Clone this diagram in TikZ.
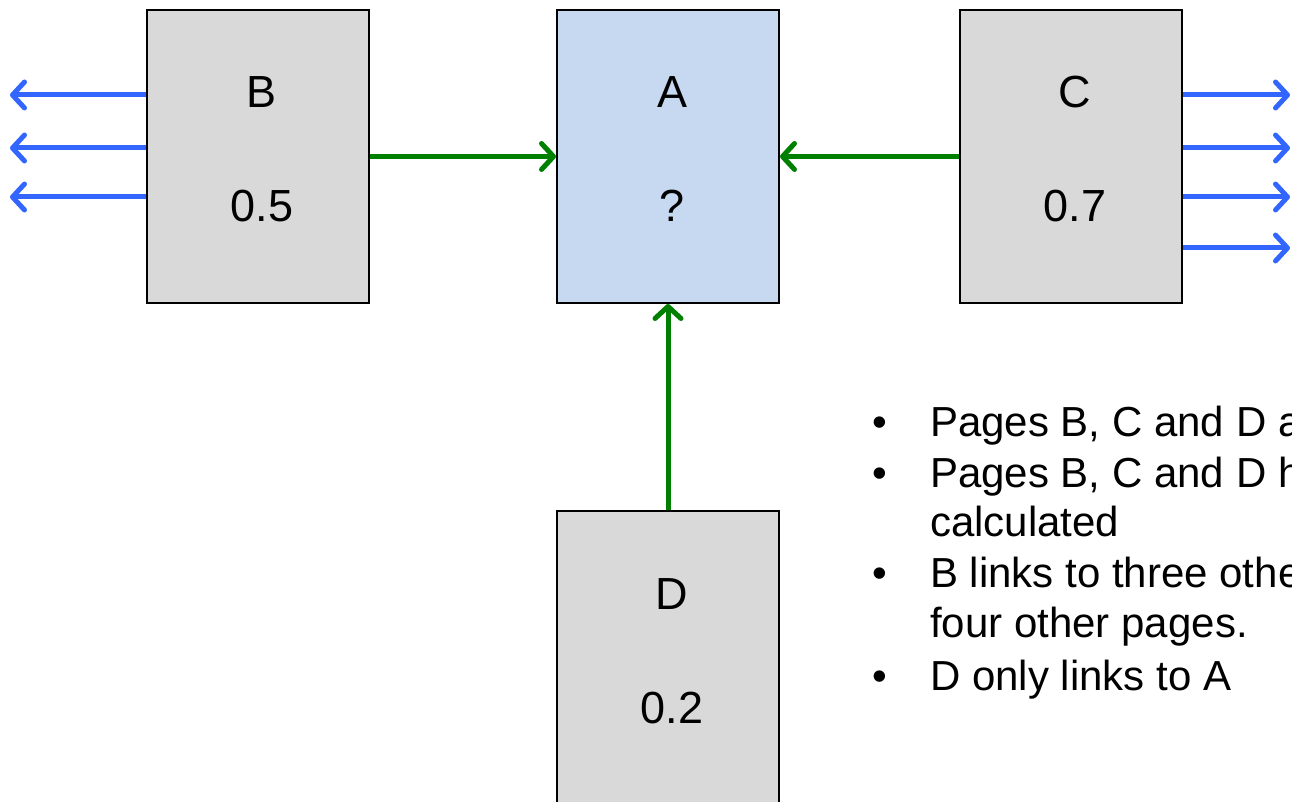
\documentclass[tikz,border=0pt]{standalone}
\usepackage{fontspec}
\setmainfont{Liberation Sans}
\usetikzlibrary{arrows.meta,calc}
\definecolor{linkblue}{HTML}{3366FF}
\definecolor{linkgreen}{HTML}{008000}
\definecolor{pagegray}{HTML}{D9D9D9}
\definecolor{pageblue}{HTML}{C6D9F1}
\begin{document}
\begin{tikzpicture}[x=1pt,y=-1pt,
  page/.style={draw=black, line width=2pt, fill=pagegray, minimum width=222pt, minimum height=293pt, inner sep=0pt, anchor=north west},
  lbl/.style={font=\fontsize{45}{54}\selectfont, anchor=base, inner sep=0pt},
  txt/.style={font=\fontsize{42}{50}\selectfont, anchor=base west, inner sep=0pt},
  tipstyle/.style={-{Straight Barb[length=12pt,width=26pt,line width=5pt 0,round]}},
  outlink/.style={draw=linkblue, line width=5pt, tipstyle},
  inlink/.style={draw=linkgreen, line width=5pt, tipstyle},
]
\useasboundingbox (0,0) rectangle (1292,802);
\clip (0,0) rectangle (1292,802);
\fill[white] (0,0) rectangle (1292,802);

% pages
\node[page] (b) at (146,9) {};
\node[page, fill=pageblue] (a) at (556,9) {};
\node[page] (c) at (959,9) {};
\node[page] (d) at (556,510) {};

% labels
\node[lbl] (bname) at ($(b.north)+(4,99)$) {B};
\node[lbl] (bval)  at ($(b.north)+(4,213)$) {0.5};
\node[lbl] (aname) at ($(a.north)+(4,99)$) {A};
\node[lbl] (aval)  at ($(a.north)+(4,213)$) {?};
\node[lbl] (cname) at ($(c.north)+(4,99)$) {C};
\node[lbl] (cval)  at ($(c.north)+(4,213)$) {0.7};
\node[lbl] (dname) at ($(d.north)+(4,99)$) {D};
\node[lbl] (dval)  at ($(d.north)+(4,213)$) {0.2};

% outgoing links of B
\coordinate (bl1) at (10,95);
\coordinate (bl2) at (10,148);
\coordinate (bl3) at (10,197);
\draw[outlink] (b.west |- bl1) -- (bl1);
\draw[outlink] (b.west |- bl2) -- (bl2);
\draw[outlink] (b.west |- bl3) -- (bl3);

% outgoing links of C
\coordinate (cl1) at (1290,95);
\coordinate (cl2) at (1290,148);
\coordinate (cl3) at (1290,197);
\coordinate (cl4) at (1290,248);
\draw[outlink] (c.east |- cl1) -- (cl1);
\draw[outlink] (c.east |- cl2) -- (cl2);
\draw[outlink] (c.east |- cl3) -- (cl3);
\draw[outlink] (c.east |- cl4) -- (cl4);

% links into A
\draw[inlink] (b.east) -- (a.west);
\draw[inlink] (c.west) -- (a.east);
\draw[inlink] (d.north) -- (a.south);

% bullet text
\node[txt] (k1) at (872,436) {•};
\node[txt] (t1) at (930,436) {Pages B, C and D a};
\node[txt] (k2) at (872,487) {•};
\node[txt] (t2) at (930,487) {Pages B, C and D h};
\node[txt] (t2b) at (930,536) {calculated};
\node[txt] (k3) at (872,587) {•};
\node[txt] (t3) at (930,587) {B links to three othe};
\node[txt] (t3b) at (930,637) {four other pages.};
\node[txt] (k4) at (872,690) {•};
\node[txt] (t4) at (930,690) {D only links to A};
\end{tikzpicture}
\end{document}
